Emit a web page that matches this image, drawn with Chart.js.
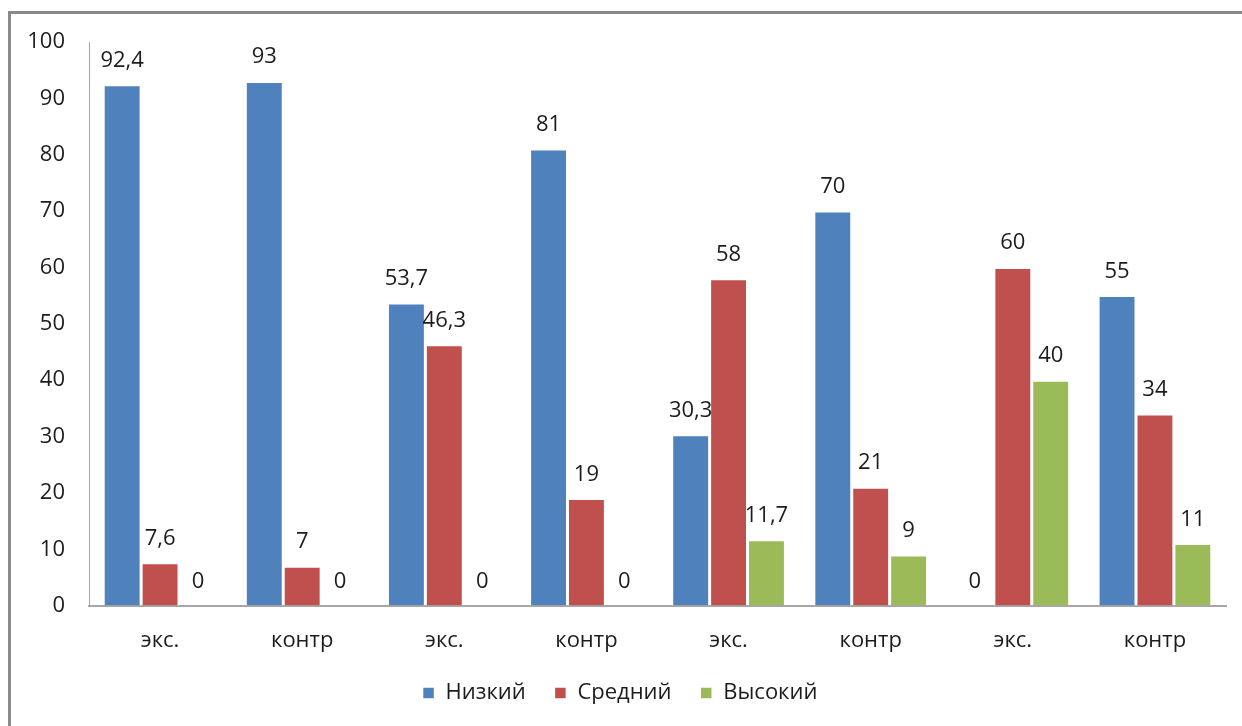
<!DOCTYPE html>
<html>
<head>
<meta charset="utf-8">
<script src="https://cdn.jsdelivr.net/npm/chart.js@4"></script>
<style>
    html, body { margin: 0; padding: 0; background: #fff; }
    #wrap { position: relative; width: 1242px; height: 726px; overflow: hidden; }
    #frame { position: absolute; left: 8px; top: 11px; right: -10px; bottom: -10px;
             border-top: 3px solid #8a8a8a; border-left: 3px solid #8a8a8a; }
    canvas { position: absolute; left: 0; top: 0; }
</style>
</head>
<body>
<div id="wrap">
    <div id="frame"></div>
    <canvas id="grafico" width="1242" height="726"></canvas>
</div>
<script>
const categorias = ['экс.', 'контр', 'экс.', 'контр', 'экс.', 'контр', 'экс.', 'контр'];
const nizkiy = [92.4, 93, 53.7, 81, 30.3, 70, 0, 55];
const sredniy = [7.6, 7, 46.3, 19, 58, 21, 60, 34];
const vysokiy = [0, 0, 0, 0, 11.7, 9, 40, 11];

const fuente = '"Open Sans", sans-serif';
const colorTexto = '#1c1c1c';

// etiquetas de valores encima de cada barra, con coma decimal
const etiquetasValores = {
    id: 'etiquetasValores',
    afterDatasetsDraw(chart) {
        const ctx = chart.ctx;
        ctx.save();
        ctx.font = '22px ' + fuente;
        ctx.fillStyle = colorTexto;
        ctx.textAlign = 'center';
        ctx.textBaseline = 'alphabetic';
        chart.data.datasets.forEach((ds, i) => {
            chart.getDatasetMeta(i).data.forEach((bar, j) => {
                const texto = String(ds.data[j]).replace('.', ',');
                ctx.fillText(texto, bar.x, bar.y - 18);
            });
        });
        ctx.restore();
    }
};

new Chart(document.getElementById('grafico').getContext('2d'), {
    type: 'bar',
    data: {
        labels: categorias,
        datasets: [
            { label: 'Низкий', data: nizkiy, backgroundColor: '#4F81BD' },
            { label: 'Средний', data: sredniy, backgroundColor: '#C0504D' },
            { label: 'Высокий', data: vysokiy, backgroundColor: '#9BBB59' }
        ]
    },
    options: {
        responsive: false,
        animation: false,
        datasets: {
            bar: { categoryPercentage: 0.8, barPercentage: 1, borderColor: '#fff', borderWidth: 1.5 }
        },
        layout: { padding: { top: 42, right: 16, left: 14, bottom: 12 } },
        scales: {
            x: {
                grid: { display: false },
                border: { color: '#a6a6a6', width: 2 },
                ticks: { color: colorTexto, font: { family: fuente, size: 22 }, padding: 14 }
            },
            y: {
                min: 0,
                max: 100,
                grid: { display: false },
                border: { color: '#a6a6a6', width: 1 },
                ticks: { stepSize: 10, color: colorTexto, font: { family: fuente, size: 22 }, padding: 16 },
                afterFit(scale) { scale.width = 75; }
            }
        },
        plugins: {
            legend: {
                position: 'bottom',
                labels: {
                    boxWidth: 12,
                    boxHeight: 12,
                    padding: 14,
                    color: colorTexto,
                    font: { family: fuente, size: 22 },
                    generateLabels(chart) {
                        const items = Chart.defaults.plugins.legend.labels.generateLabels(chart);
                        items.forEach((it, k) => {
                            if (k < items.length - 1) it.text += '\u2002\u2009';
                        });
                        return items;
                    }
                }
            },
            tooltip: { enabled: false }
        }
    },
    plugins: [etiquetasValores]
});
</script>
</body>
</html>
